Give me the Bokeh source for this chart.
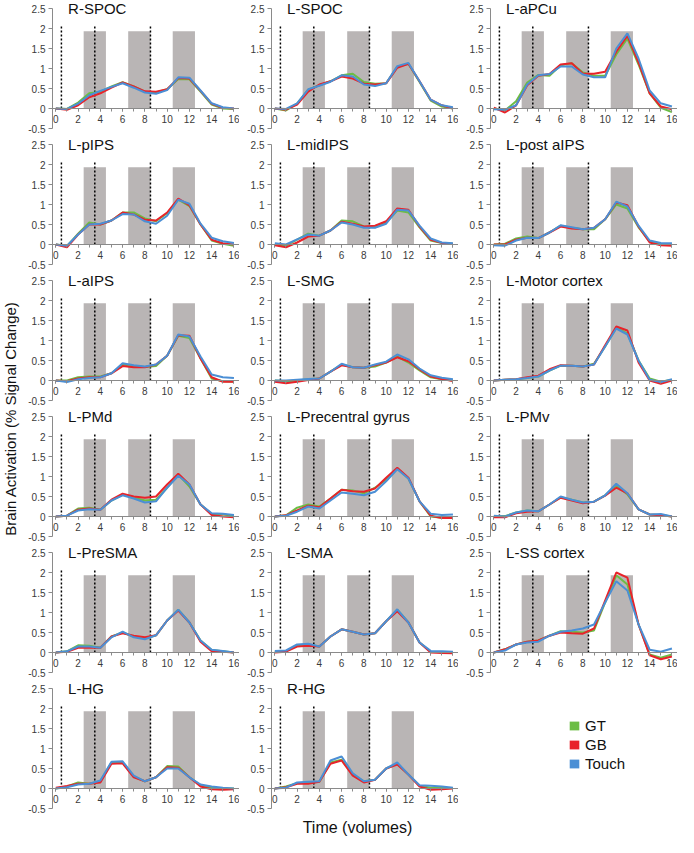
import math
from bokeh.plotting import figure
from bokeh.models import Range1d, FixedTicker, Label, Legend, LegendItem, CustomJSTickFormatter
from bokeh.layouts import row, column
from bokeh.embed import file_html
from bokeh.resources import INLINE

# ---------------- data ----------------
volumes = list(range(17))
x_ticks = [0, 2, 4, 6, 8, 10, 12, 14, 16]
y_ticks = [-0.5, 0, 0.5, 1, 1.5, 2, 2.5]

stim_left = [2.5, 6.5, 10.5]
stim_right = [4.5, 8.5, 12.5]
stim_level = 1.93
event_onsets = [0.5, 3.5, 8.5]
event_level = 2.05

conditions = ["GT", "GB", "Touch"]

R_SPOC_GT = [0, -0.01, 0.15, 0.38, 0.42, 0.55, 0.66, 0.55, 0.42, 0.40, 0.48, 0.74, 0.73, 0.42, 0.10, 0.00, -0.01]
R_SPOC_GB = [0, -0.03, 0.08, 0.28, 0.38, 0.52, 0.65, 0.55, 0.43, 0.42, 0.48, 0.76, 0.75, 0.44, 0.12, 0.02, 0.00]
R_SPOC_TOUCH = [0, -0.01, 0.12, 0.33, 0.44, 0.54, 0.63, 0.52, 0.40, 0.37, 0.46, 0.78, 0.77, 0.45, 0.13, 0.03, 0.00]

L_SPOC_GT = [0, -0.05, 0.12, 0.47, 0.58, 0.68, 0.83, 0.87, 0.66, 0.62, 0.63, 1.04, 1.12, 0.66, 0.20, 0.05, 0.00]
L_SPOC_GB = [0, -0.03, 0.10, 0.42, 0.60, 0.68, 0.80, 0.75, 0.62, 0.60, 0.63, 1.02, 1.12, 0.68, 0.22, 0.08, 0.00]
L_SPOC_TOUCH = [0, -0.01, 0.13, 0.48, 0.57, 0.67, 0.83, 0.80, 0.60, 0.56, 0.63, 1.06, 1.14, 0.68, 0.22, 0.08, 0.03]

L_APCU_GT = [0.00, -0.05, 0.18, 0.65, 0.84, 0.82, 1.08, 1.13, 0.90, 0.82, 0.82, 1.35, 1.75, 1.10, 0.38, 0.02, -0.09]
L_APCU_GB = [0.02, -0.10, 0.08, 0.58, 0.82, 0.86, 1.10, 1.13, 0.87, 0.87, 0.92, 1.42, 1.82, 1.15, 0.38, 0.05, -0.02]
L_APCU_TOUCH = [-0.02, -0.03, 0.08, 0.60, 0.83, 0.86, 1.05, 1.05, 0.85, 0.78, 0.78, 1.50, 1.88, 1.25, 0.45, 0.13, 0.05]

L_PIPS_GT = [0, -0.04, 0.27, 0.55, 0.50, 0.60, 0.80, 0.80, 0.65, 0.58, 0.78, 1.12, 0.96, 0.50, 0.10, 0.02, -0.03]
L_PIPS_GB = [0, -0.07, 0.25, 0.50, 0.50, 0.60, 0.80, 0.75, 0.62, 0.60, 0.80, 1.15, 0.98, 0.50, 0.12, 0.03, 0.00]
L_PIPS_TOUCH = [0, -0.03, 0.25, 0.50, 0.52, 0.60, 0.76, 0.75, 0.58, 0.52, 0.72, 1.12, 1.02, 0.52, 0.17, 0.08, 0.04]

L_MIDIPS_GT = [0.00, -0.03, 0.12, 0.27, 0.22, 0.35, 0.60, 0.58, 0.45, 0.43, 0.55, 0.85, 0.80, 0.43, 0.10, 0.04, 0.02]
L_MIDIPS_GB = [-0.02, -0.07, 0.05, 0.20, 0.22, 0.35, 0.57, 0.52, 0.45, 0.47, 0.58, 0.90, 0.87, 0.45, 0.12, 0.04, 0.01]
L_MIDIPS_TOUCH = [0.03, 0.00, 0.13, 0.25, 0.22, 0.35, 0.55, 0.50, 0.42, 0.42, 0.52, 0.87, 0.85, 0.47, 0.15, 0.05, 0.03]

L_POSTAIPS_GT = [0.00, 0.02, 0.15, 0.20, 0.16, 0.30, 0.47, 0.42, 0.38, 0.38, 0.63, 1.00, 0.90, 0.43, 0.07, 0.02, 0.00]
L_POSTAIPS_GB = [0.00, 0.00, 0.12, 0.17, 0.16, 0.30, 0.45, 0.40, 0.38, 0.42, 0.63, 1.05, 0.98, 0.45, 0.05, -0.02, -0.03]
L_POSTAIPS_TOUCH = [-0.02, -0.03, 0.10, 0.17, 0.16, 0.30, 0.48, 0.43, 0.38, 0.42, 0.63, 1.07, 0.95, 0.47, 0.10, 0.04, 0.03]

L_AIPS_GT = [0, 0.00, 0.08, 0.10, 0.10, 0.18, 0.40, 0.36, 0.34, 0.36, 0.62, 1.12, 1.06, 0.55, 0.05, -0.02, -0.03]
L_AIPS_GB = [0, -0.02, 0.05, 0.08, 0.08, 0.18, 0.36, 0.33, 0.33, 0.40, 0.62, 1.13, 1.12, 0.55, 0.08, -0.03, -0.03]
L_AIPS_TOUCH = [0, -0.04, 0.03, 0.06, 0.08, 0.18, 0.43, 0.38, 0.35, 0.40, 0.62, 1.15, 1.10, 0.60, 0.15, 0.08, 0.06]

L_SMG_GT = [0.00, -0.02, 0.00, 0.03, 0.05, 0.22, 0.40, 0.33, 0.32, 0.35, 0.45, 0.60, 0.45, 0.25, 0.08, 0.03, 0.00]
L_SMG_GB = [-0.03, -0.07, -0.03, 0.01, 0.05, 0.22, 0.38, 0.33, 0.32, 0.38, 0.45, 0.58, 0.48, 0.28, 0.10, 0.04, -0.01]
L_SMG_TOUCH = [0.00, 0.00, 0.02, 0.04, 0.05, 0.22, 0.42, 0.33, 0.32, 0.40, 0.47, 0.65, 0.53, 0.30, 0.13, 0.07, 0.03]

L_MOTOR_GT = [0, 0.02, 0.03, 0.06, 0.10, 0.25, 0.37, 0.37, 0.35, 0.42, 0.85, 1.32, 1.18, 0.50, 0.05, -0.03, 0.02]
L_MOTOR_GB = [0, 0.02, 0.03, 0.08, 0.12, 0.28, 0.38, 0.37, 0.35, 0.40, 0.88, 1.35, 1.25, 0.45, 0.00, -0.08, 0.00]
L_MOTOR_TOUCH = [0, 0.02, 0.03, 0.06, 0.10, 0.25, 0.37, 0.37, 0.35, 0.40, 0.85, 1.30, 1.15, 0.50, 0.02, -0.04, 0.03]

L_PMD_GT = [0, 0.02, 0.20, 0.22, 0.17, 0.40, 0.55, 0.47, 0.40, 0.42, 0.72, 1.05, 0.75, 0.30, 0.06, 0.05, 0.02]
L_PMD_GB = [0, 0.02, 0.17, 0.20, 0.17, 0.42, 0.57, 0.50, 0.47, 0.50, 0.80, 1.07, 0.80, 0.30, 0.04, 0.00, -0.02]
L_PMD_TOUCH = [0, 0.02, 0.15, 0.18, 0.17, 0.40, 0.53, 0.45, 0.35, 0.38, 0.72, 1.02, 0.80, 0.30, 0.08, 0.07, 0.04]

L_PRECENTRAL_GT = [0, 0.03, 0.22, 0.30, 0.25, 0.45, 0.67, 0.65, 0.58, 0.72, 0.92, 1.20, 0.95, 0.38, 0.00, -0.03, -0.03]
L_PRECENTRAL_GB = [0, 0.03, 0.15, 0.27, 0.23, 0.45, 0.67, 0.63, 0.62, 0.70, 0.97, 1.22, 0.97, 0.38, 0.02, -0.04, -0.04]
L_PRECENTRAL_TOUCH = [0, 0.02, 0.12, 0.25, 0.20, 0.40, 0.60, 0.57, 0.53, 0.62, 0.88, 1.18, 0.95, 0.38, 0.07, 0.04, 0.05]

L_PMV_GT = [0.00, 0.01, 0.10, 0.15, 0.13, 0.30, 0.48, 0.42, 0.35, 0.37, 0.53, 0.78, 0.55, 0.18, 0.05, 0.04, 0.00]
L_PMV_GB = [-0.02, -0.02, 0.08, 0.12, 0.13, 0.30, 0.47, 0.40, 0.33, 0.37, 0.52, 0.72, 0.58, 0.18, 0.05, 0.03, 0.00]
L_PMV_TOUCH = [0.02, 0.00, 0.10, 0.15, 0.13, 0.30, 0.50, 0.42, 0.35, 0.37, 0.53, 0.82, 0.58, 0.18, 0.05, 0.06, 0.00]

L_PRESMA_GT = [0.00, 0.03, 0.18, 0.17, 0.12, 0.40, 0.50, 0.40, 0.35, 0.43, 0.80, 1.07, 0.75, 0.30, 0.06, 0.03, 0.00]
L_PRESMA_GB = [0.00, 0.02, 0.12, 0.12, 0.12, 0.40, 0.48, 0.42, 0.38, 0.43, 0.80, 1.05, 0.75, 0.27, 0.03, 0.02, 0.00]
L_PRESMA_TOUCH = [0.00, 0.03, 0.15, 0.15, 0.12, 0.38, 0.52, 0.38, 0.33, 0.43, 0.80, 1.07, 0.75, 0.30, 0.07, 0.04, 0.00]

L_SMA_GT = [0.02, 0.03, 0.18, 0.20, 0.15, 0.40, 0.58, 0.52, 0.45, 0.48, 0.78, 1.07, 0.75, 0.25, 0.02, 0.01, 0.00]
L_SMA_GB = [0.00, 0.02, 0.15, 0.17, 0.15, 0.40, 0.58, 0.52, 0.45, 0.48, 0.78, 1.03, 0.75, 0.25, 0.00, -0.01, -0.02]
L_SMA_TOUCH = [0.04, 0.05, 0.20, 0.22, 0.15, 0.40, 0.58, 0.52, 0.45, 0.48, 0.78, 1.08, 0.75, 0.25, 0.04, 0.03, 0.02]

L_SS_GT = [0.00, 0.08, 0.20, 0.27, 0.30, 0.42, 0.53, 0.52, 0.50, 0.55, 1.25, 1.93, 1.70, 0.70, -0.05, -0.13, -0.05]
L_SS_GB = [0.00, 0.08, 0.20, 0.27, 0.30, 0.42, 0.50, 0.48, 0.47, 0.60, 1.30, 2.00, 1.87, 0.70, -0.07, -0.17, -0.10]
L_SS_TOUCH = [0.00, 0.05, 0.20, 0.25, 0.27, 0.42, 0.52, 0.55, 0.60, 0.70, 1.25, 1.78, 1.55, 0.70, 0.07, 0.02, 0.10]

L_HG_GT = [0.00, 0.05, 0.15, 0.12, 0.18, 0.65, 0.65, 0.30, 0.18, 0.28, 0.56, 0.55, 0.28, 0.08, 0.02, 0.00, 0.00]
L_HG_GB = [0.02, 0.06, 0.12, 0.12, 0.15, 0.62, 0.63, 0.28, 0.18, 0.28, 0.53, 0.52, 0.28, 0.05, -0.02, -0.03, -0.02]
L_HG_TOUCH = [0.00, 0.03, 0.10, 0.12, 0.20, 0.67, 0.68, 0.32, 0.18, 0.28, 0.50, 0.50, 0.28, 0.10, 0.05, 0.02, 0.00]

R_HG_GT = [0.00, 0.05, 0.13, 0.15, 0.17, 0.65, 0.72, 0.35, 0.18, 0.22, 0.50, 0.62, 0.35, 0.07, 0.02, 0.02, 0.01]
R_HG_GB = [0.00, 0.03, 0.12, 0.12, 0.17, 0.62, 0.70, 0.32, 0.15, 0.22, 0.50, 0.60, 0.35, 0.05, -0.03, -0.02, 0.00]
R_HG_TOUCH = [0.00, 0.02, 0.15, 0.17, 0.18, 0.70, 0.80, 0.38, 0.18, 0.22, 0.50, 0.65, 0.35, 0.08, 0.07, 0.05, 0.02]

region_names = ["R-SPOC", "L-SPOC", "L-aPCu", "L-pIPS", "L-midIPS", "L-post aIPS",
                "L-aIPS", "L-SMG", "L-Motor cortex", "L-PMd", "L-Precentral gyrus", "L-PMv",
                "L-PreSMA", "L-SMA", "L-SS cortex", "L-HG", "R-HG"]
region_series = [
    (R_SPOC_GT, R_SPOC_GB, R_SPOC_TOUCH),
    (L_SPOC_GT, L_SPOC_GB, L_SPOC_TOUCH),
    (L_APCU_GT, L_APCU_GB, L_APCU_TOUCH),
    (L_PIPS_GT, L_PIPS_GB, L_PIPS_TOUCH),
    (L_MIDIPS_GT, L_MIDIPS_GB, L_MIDIPS_TOUCH),
    (L_POSTAIPS_GT, L_POSTAIPS_GB, L_POSTAIPS_TOUCH),
    (L_AIPS_GT, L_AIPS_GB, L_AIPS_TOUCH),
    (L_SMG_GT, L_SMG_GB, L_SMG_TOUCH),
    (L_MOTOR_GT, L_MOTOR_GB, L_MOTOR_TOUCH),
    (L_PMD_GT, L_PMD_GB, L_PMD_TOUCH),
    (L_PRECENTRAL_GT, L_PRECENTRAL_GB, L_PRECENTRAL_TOUCH),
    (L_PMV_GT, L_PMV_GB, L_PMV_TOUCH),
    (L_PRESMA_GT, L_PRESMA_GB, L_PRESMA_TOUCH),
    (L_SMA_GT, L_SMA_GB, L_SMA_TOUCH),
    (L_SS_GT, L_SS_GB, L_SS_TOUCH),
    (L_HG_GT, L_HG_GB, L_HG_TOUCH),
    (R_HG_GT, R_HG_GB, R_HG_TOUCH),
]

# ---------------- style ----------------
FONT = "Liberation Sans"
COLORS = ["#6cbd45", "#e8232a", "#4b8fd5"]
BAR_COLOR = "#b9b5b5"
AXIS_COLOR = "#8a8a8a"
TICK_LABEL_COLOR = "#3a3a3a"
PW, PH = 219, 136

fmt_code = "return String(tick)"


def make_panel(title, series):
    p = figure(width=PW, height=PH, x_range=Range1d(-0.3, 16.5), y_range=Range1d(-0.5, 2.7),
               output_backend="svg", toolbar_location=None,
               min_border_left=32, min_border_right=0, min_border_top=0, min_border_bottom=8,
               outline_line_color=None, background_fill_color="white", border_fill_color="white")
    p.xgrid.visible = False
    p.ygrid.visible = False

    p.quad(left=stim_left, right=stim_right, bottom=0, top=stim_level,
           fill_color=BAR_COLOR, line_color=None)
    p.segment(x0=event_onsets, y0=0, x1=event_onsets, y1=event_level,
              line_color="black", line_width=1.5, line_dash="2 2")
    for ys, c in zip(series, COLORS):
        p.line(volumes, ys, line_color=c, line_width=2)

    p.xaxis.fixed_location = 0
    p.xaxis.ticker = FixedTicker(ticks=x_ticks, minor_ticks=volumes)
    p.yaxis.ticker = FixedTicker(ticks=y_ticks, minor_ticks=[])
    p.yaxis.bounds = (y_ticks[0], y_ticks[-1])
    for ax in (p.xaxis, p.yaxis):
        ax.formatter = CustomJSTickFormatter(code=fmt_code)
        ax.axis_line_color = AXIS_COLOR
        ax.major_tick_line_color = AXIS_COLOR
        ax.minor_tick_line_color = AXIS_COLOR
        ax.major_tick_in = 0
        ax.minor_tick_in = 0
        ax.major_label_text_font = FONT
        ax.major_label_text_font_size = "10px"
        ax.major_label_text_color = TICK_LABEL_COLOR
    p.xaxis.major_tick_out = 3
    p.xaxis.minor_tick_out = 3
    p.xaxis.major_label_standoff = 3
    p.yaxis.major_tick_out = 4
    p.yaxis.major_label_standoff = 3

    p.add_layout(Label(x=1.1, y=2.5, text=title, text_font=FONT, text_font_size="15px",
                       text_color="#111111", text_baseline="middle", text_align="left"))
    return p


panels = [make_panel(n, s) for n, s in zip(region_names, region_series)]

# legend cell
lp = figure(width=PW, height=PH, x_range=Range1d(0, 1), y_range=Range1d(0, 1),
            output_backend="svg", toolbar_location=None, min_border=0,
            outline_line_color=None)
lp.axis.visible = False
lp.grid.visible = False
items = []
for name, c in zip(conditions, COLORS):
    r = lp.quad(left=[0], right=[0], bottom=[0], top=[0], fill_color=c, line_color=None)
    items.append(LegendItem(label=name, renderers=[r]))
legend = Legend(items=items, location=(110, 36), glyph_width=12, glyph_height=11,
                label_height=14, spacing=2, padding=0, margin=0, label_standoff=5,
                label_text_font=FONT, label_text_font_size="15px", label_text_color="#111111",
                border_line_color=None, background_fill_alpha=0)
lp.add_layout(legend)

cells = panels + [lp]
grid_rows = [row(*cells[i:i + 3]) for i in range(0, 18, 3)]

# axis titles
ylab = figure(width=20, height=PH * 6, x_range=Range1d(0, 20), y_range=Range1d(0, PH * 6),
              output_backend="svg", toolbar_location=None, min_border=0, outline_line_color=None)
ylab.axis.visible = False
ylab.grid.visible = False
ylab.add_layout(Label(x=10, y=398, text="Brain Activation (% Signal Change)", angle=math.pi / 2,
                      text_align="center", text_baseline="middle", text_font=FONT,
                      text_font_size="15px", text_color="#111111"))

xlab = figure(width=PW * 3, height=21, x_range=Range1d(0, PW * 3), y_range=Range1d(0, 21),
              output_backend="svg", toolbar_location=None, min_border=0, outline_line_color=None)
xlab.axis.visible = False
xlab.grid.visible = False
xlab.add_layout(Label(x=337, y=10, text="Time (volumes)", text_align="center",
                      text_baseline="middle", text_font=FONT, text_font_size="16px",
                      text_color="#111111"))

layout = row(ylab, column(*grid_rows, xlab))

open("out.html", "w").write(file_html(layout, INLINE))
